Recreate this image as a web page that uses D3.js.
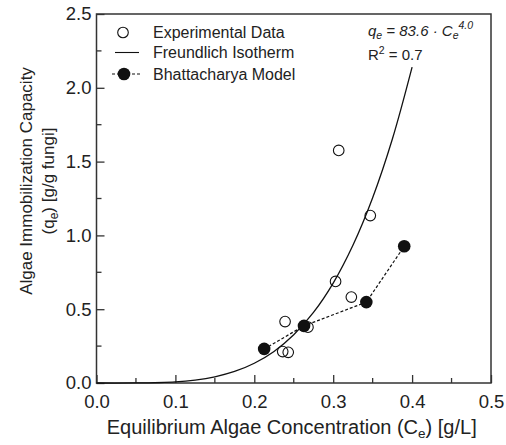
<!DOCTYPE html>
<html>
<head>
<meta charset="utf-8">
<script src="https://cdn.jsdelivr.net/npm/d3@7"></script>
<style>
  body { margin: 0; background: #fff; }
  svg { font-family: "Liberation Sans", Arial, sans-serif; }
</style>
</head>
<body>
<div id="chart"></div>
<script>
// Experimental data (Ce, qe)
const expCe = [0.307, 0.347, 0.303, 0.323, 0.239, 0.268, 0.236, 0.243];
const expQe = [1.576, 1.134, 0.688, 0.582, 0.416, 0.378, 0.213, 0.208];

// Bhattacharya model points
const bhCe = [0.2125, 0.263, 0.342, 0.390];
const bhQe = [0.231, 0.387, 0.548, 0.926];

// Freundlich isotherm curve
const fitCe = [0.0, 0.05, 0.1, 0.125, 0.15, 0.175, 0.2, 0.225, 0.25, 0.275, 0.3, 0.325, 0.35, 0.375, 0.4];
const fitQe = [0.0, 0.0005, 0.008, 0.02, 0.042, 0.078, 0.134, 0.214, 0.327, 0.478, 0.677, 0.933, 1.255, 1.653, 2.14];

const xTicks = [0, 0.1, 0.2, 0.3, 0.4, 0.5];
const yTicks = [0, 0.5, 1.0, 1.5, 2.0, 2.5];

const margin = {top: 14, right: 15, bottom: 62, left: 96.5};
const W = 506, H = 445;
const width = W - margin.left - margin.right;
const height = H - margin.top - margin.bottom;

const svg = d3.select('#chart').append('svg')
    .attr('width', W)
    .attr('height', H);

const g = svg.append('g')
    .attr('transform', `translate(${margin.left},${margin.top})`);

const x = d3.scaleLinear().domain([0, 0.5]).range([0, width]);
const y = d3.scaleLinear().domain([0, 2.5]).range([height, 0]);

const axisColor = '#333';

// minor ticks (inward)
const xMinor = d3.range(0.05, 0.5, 0.1);
const yMinor = d3.range(0.25, 2.5, 0.5);

const xAxis = g.append('g')
    .attr('transform', `translate(0,${height})`)
    .call(d3.axisBottom(x).tickValues(xTicks).tickFormat(d3.format('.1f'))
        .tickSizeInner(-8).tickSizeOuter(0).tickPadding(12));
xAxis.append('g').selectAll('line')
    .data(xMinor).join('line')
    .attr('x1', d => x(d)).attr('x2', d => x(d))
    .attr('y1', 0).attr('y2', -5);

const yAxis = g.append('g')
    .call(d3.axisLeft(y).tickValues(yTicks).tickFormat(d3.format('.1f'))
        .tickSizeInner(-8).tickSizeOuter(0).tickPadding(5));
yAxis.append('g').selectAll('line')
    .data(yMinor).join('line')
    .attr('x1', 0).attr('x2', 5)
    .attr('y1', d => y(d)).attr('y2', d => y(d));

[xAxis, yAxis].forEach(a => {
    a.selectAll('line, path').attr('stroke', axisColor).attr('stroke-width', 1.3);
    a.selectAll('text').attr('font-size', 18.5).attr('fill', '#222')
        .attr('font-family', '"Liberation Sans", Arial, sans-serif');
});
xAxis.selectAll('.domain').remove();
yAxis.selectAll('.domain').remove();

// frame
g.append('rect')
    .attr('x', 0).attr('y', 0)
    .attr('width', width).attr('height', height)
    .attr('fill', 'none')
    .attr('stroke', axisColor)
    .attr('stroke-width', 1.5);

// Freundlich curve
const fitData = fitCe.map((c, i) => [c, fitQe[i]]);
g.append('path')
    .datum(fitData)
    .attr('fill', 'none')
    .attr('stroke', '#111')
    .attr('stroke-width', 1.3)
    .attr('d', d3.line().x(d => x(d[0])).y(d => y(d[1])).curve(d3.curveCatmullRom.alpha(0.5)));

// Bhattacharya dashed line
const bhData = bhCe.map((c, i) => [c, bhQe[i]]);
g.append('path')
    .datum(bhData)
    .attr('fill', 'none')
    .attr('stroke', '#111')
    .attr('stroke-width', 1.2)
    .attr('stroke-dasharray', '3,2')
    .attr('d', d3.line().x(d => x(d[0])).y(d => y(d[1])));

// experimental points (open)
const expData = expCe.map((c, i) => [c, expQe[i]]);
g.append('g').selectAll('circle')
    .data(expData).join('circle')
    .attr('cx', d => x(d[0]))
    .attr('cy', d => y(d[1]))
    .attr('r', 5.3)
    .attr('fill', 'none')
    .attr('stroke', '#111')
    .attr('stroke-width', 1.1);

// Bhattacharya points (filled)
g.append('g').selectAll('circle')
    .data(bhData).join('circle')
    .attr('cx', d => x(d[0]))
    .attr('cy', d => y(d[1]))
    .attr('r', 6.3)
    .attr('fill', '#111');

// legend
const legend = svg.append('g').attr('font-size', 16).attr('fill', '#222');
legend.append('circle').attr('cx', 123).attr('cy', 32.5).attr('r', 5.3)
    .attr('fill', 'none').attr('stroke', '#111').attr('stroke-width', 1.1);
legend.append('text').attr('x', 153).attr('y', 38).text('Experimental Data');
legend.append('line').attr('x1', 115).attr('x2', 139).attr('y1', 52.5).attr('y2', 52.5)
    .attr('stroke', '#111').attr('stroke-width', 1.1);
legend.append('text').attr('x', 153).attr('y', 58).text('Freundlich Isotherm');
legend.append('line').attr('x1', 112).attr('x2', 141).attr('y1', 74).attr('y2', 74)
    .attr('stroke', '#111').attr('stroke-width', 1.1).attr('stroke-dasharray', '3,2');
legend.append('circle').attr('cx', 124).attr('cy', 74).attr('r', 6.3).attr('fill', '#111');
legend.append('text').attr('x', 153).attr('y', 79.5).text('Bhattacharya Model');

// equation
const eq = svg.append('text').attr('x', 368).attr('y', 35.5)
    .attr('font-size', 15).attr('font-style', 'italic').attr('fill', '#222');
eq.append('tspan').text('q');
eq.append('tspan').attr('font-size', 10.5).attr('dy', 3).text('e');
eq.append('tspan').attr('dy', -3).text(' = 83.6 · C');
eq.append('tspan').attr('font-size', 10.5).attr('dy', 3).text('e');
eq.append('tspan').attr('font-size', 10.5).attr('dy', -10).text('4.0');

const r2 = svg.append('text').attr('x', 368).attr('y', 60)
    .attr('font-size', 15).attr('fill', '#222');
r2.append('tspan').text('R');
r2.append('tspan').attr('font-size', 10.5).attr('dy', -6).text('2');
r2.append('tspan').attr('dy', 6).text(' = 0.7');

// x title
const xt = svg.append('text')
    .attr('x', margin.left + width / 2 - 2)
    .attr('y', 434)
    .attr('text-anchor', 'middle')
    .attr('font-size', 20).attr('fill', '#222');
xt.append('tspan').text('Equilibrium Algae Concentration (C');
xt.append('tspan').attr('font-size', 13.5).attr('dy', 4).text('e');
xt.append('tspan').attr('dy', -4).text(') [g/L]');

// y title (two lines)
const yt = svg.append('g')
    .attr('transform', 'translate(0,181) rotate(-90)')
    .attr('font-size', 17).attr('fill', '#222')
    .attr('text-anchor', 'middle');
yt.append('text').attr('x', 0).attr('y', 32).text('Algae Immobilization Capacity');
const yl2 = yt.append('text').attr('x', 0).attr('y', 54);
yl2.append('tspan').text('(q');
yl2.append('tspan').attr('font-size', 12).attr('dy', 4).text('e');
yl2.append('tspan').attr('dy', -4).text(') [g/g fungi]');
</script>
</body>
</html>
